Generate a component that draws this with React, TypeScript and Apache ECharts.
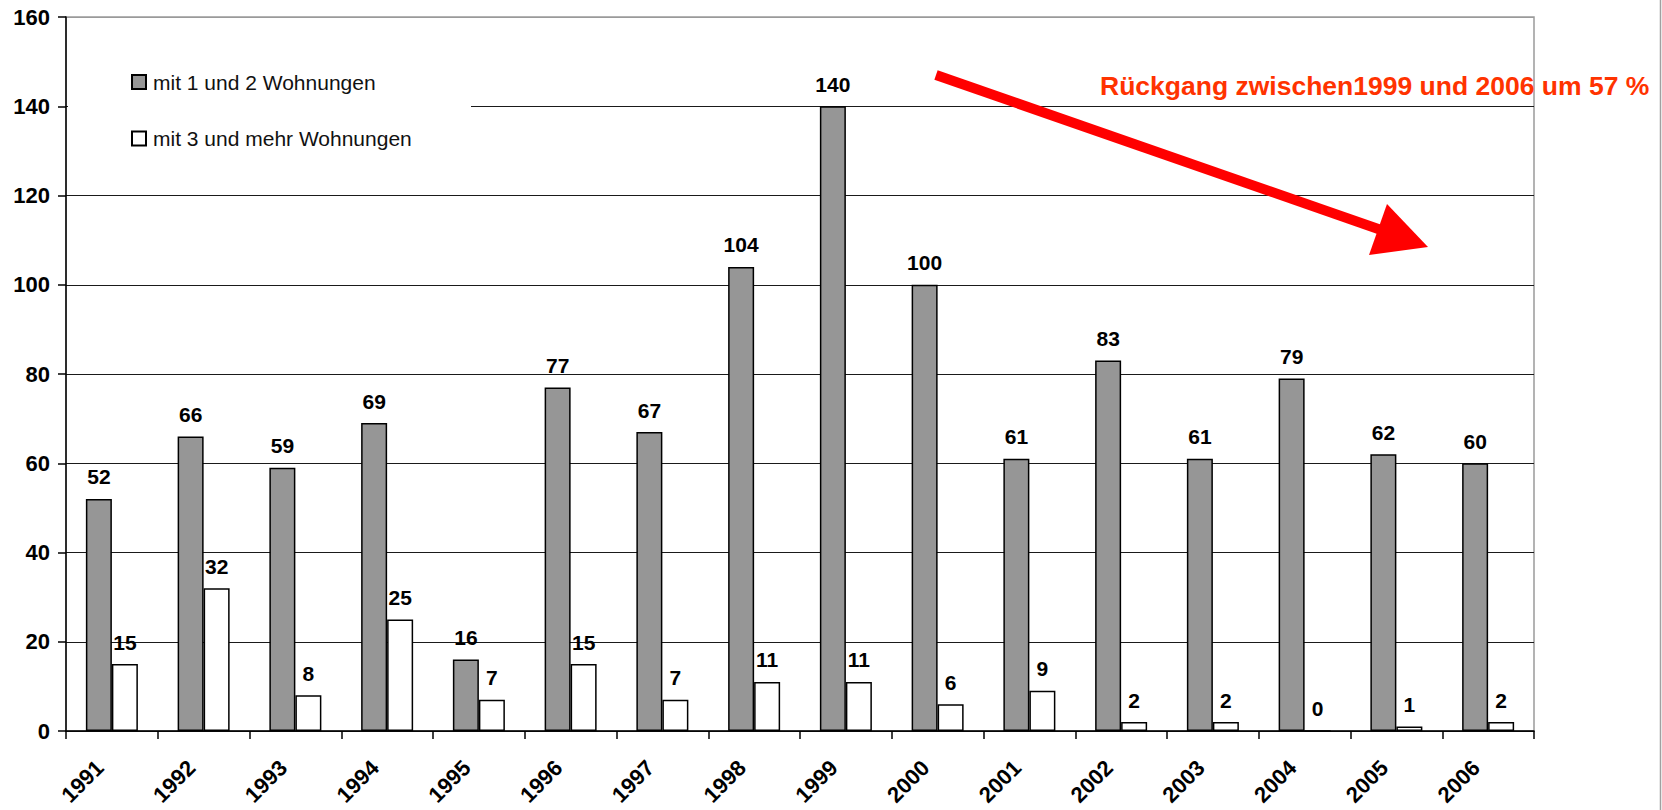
import React, { useEffect, useRef } from "react";
import * as echarts from "echarts";

const years = ["1991", "1992", "1993", "1994", "1995", "1996", "1997", "1998", "1999", "2000", "2001", "2002", "2003", "2004", "2005", "2006"];
const oneTwo = [52, 66, 59, 69, 16, 77, 67, 104, 140, 100, 61, 83, 61, 79, 62, 60];
const threePlus = [15, 32, 8, 25, 7, 15, 7, 11, 11, 6, 9, 2, 2, 0, 1, 2];
const seriesNames = ["mit 1 und 2 Wohnungen", "mit 3 und mehr Wohnungen"];
const annotation = "Rückgang zwischen1999 und 2006 um 57 %";
const yMin = 0;
const yMax = 160;
const yInterval = 20;

const FONT = "'Liberation Sans', Arial, Helvetica, sans-serif";

export default function App() {
  const ref = useRef<HTMLDivElement>(null);
  useEffect(() => {
    if (!ref.current) return;
    const chart = echarts.init(ref.current, null, { renderer: "svg" });
    const labelStyle = {
      show: true,
      position: "top" as const,
      distance: 11.5,
      color: "#000",
      fontWeight: "bold" as const,
      fontSize: 21,
      fontFamily: FONT,
    };
    const splitColors: string[] = [];
    for (let v = yMin; v <= yMax; v += yInterval) splitColors.push(v === yMax ? "#9a9a9a" : "#1a1a1a");
    chart.setOption({
      animation: false,
      backgroundColor: "#ffffff",
      textStyle: { fontFamily: FONT },
      grid: {
        left: 66,
        right: 128,
        top: 17,
        bottom: 79,
        containLabel: false,
        show: true,
        borderColor: "#9a9a9a",
        borderWidth: 1.5,
      },
      legend: {
        orient: "vertical",
        left: 126,
        top: 66.5,
        itemWidth: 14,
        itemHeight: 14,
        itemGap: 35.5,
        icon: "rect",
        textStyle: { fontSize: 21, color: "#111", fontFamily: FONT, padding: [0, 0, 0, 2] },
        data: seriesNames,
      },
      xAxis: {
        type: "category",
        data: years,
        axisLine: { lineStyle: { color: "#000", width: 1.5 } },
        axisTick: { show: true, inside: false, length: 8, lineStyle: { color: "#000", width: 1.5 } },
        axisLabel: {
          rotate: 45,
          margin: 21,
          padding: [0, 17, 0, 0],
          color: "#000",
          fontWeight: "bold",
          fontSize: 22,
          fontFamily: FONT,
        },
        splitLine: { show: false },
      },
      yAxis: {
        type: "value",
        min: yMin,
        max: yMax,
        interval: yInterval,
        axisLine: { show: true, lineStyle: { color: "#000", width: 1.5 } },
        axisTick: { show: true, inside: false, length: 8, lineStyle: { color: "#000", width: 1.5 } },
        axisLabel: {
          margin: 16,
          color: "#000",
          fontWeight: "bold",
          fontSize: 22,
          fontFamily: FONT,
        },
        splitLine: { show: true, lineStyle: { color: splitColors, width: 1.2 } },
      },
      series: [
        {
          name: seriesNames[0],
          type: "bar",
          data: oneTwo,
          barWidth: 26,
          barGap: "0%",
          itemStyle: { color: "#969696", borderColor: "#000", borderWidth: 1.5 },
          label: labelStyle,
        },
        {
          name: seriesNames[1],
          type: "bar",
          data: threePlus,
          barWidth: 26,
          barGap: "0%",
          itemStyle: { color: "#ffffff", borderColor: "#000", borderWidth: 1.5 },
          label: labelStyle,
        },
      ],
      graphic: [
        {
          type: "rect",
          z: 1,
          silent: true,
          shape: { x: 68, y: 30, width: 403, height: 150 },
          style: { fill: "#ffffff" },
        },
        {
          type: "line",
          z: 10,
          silent: true,
          shape: { x1: 936, y1: 75, x2: 1384, y2: 231 },
          style: { stroke: "#ff0000", lineWidth: 10 },
        },
        {
          type: "polygon",
          z: 10,
          silent: true,
          shape: { points: [[1387, 204], [1428, 247], [1369, 255]] },
          style: { fill: "#ff0000" },
        },
        {
          type: "text",
          z: 9,
          silent: true,
          x: 1100,
          y: 86,
          style: {
            text: annotation,
            fill: "#ff3300",
            font: `bold 26.5px ${FONT}`,
            textAlign: "left",
            textVerticalAlign: "middle",
          },
        },
        {
          type: "line",
          z: 10,
          silent: true,
          shape: { x1: 1660.5, y1: 0, x2: 1660.5, y2: 810 },
          style: { stroke: "#a0a0a0", lineWidth: 1.5 },
        },
      ],
    });
    return () => chart.dispose();
  }, []);
  return (
    <div
      ref={ref}
      style={{ position: "fixed", left: 0, top: 0, width: 1662, height: 810, background: "#fff" }}
    />
  );
}
